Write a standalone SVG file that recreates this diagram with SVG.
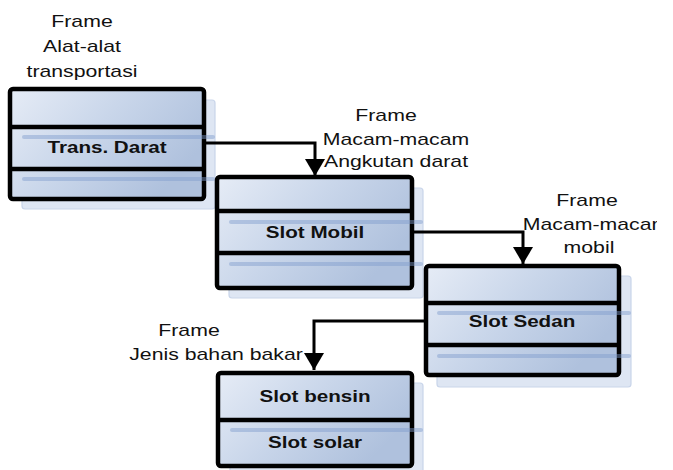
<svg xmlns="http://www.w3.org/2000/svg" width="673" height="470" viewBox="0 0 673 470">
  <defs>
    <linearGradient id="boxFill" x1="0" y1="0" x2="1" y2="0.5">
      <stop offset="0" stop-color="#e6ecf6"/>
      <stop offset="0.5" stop-color="#c9d6ea"/>
      <stop offset="1" stop-color="#afc1dd"/>
    </linearGradient>
    <clipPath id="pageEdge">
      <rect x="0" y="0" width="657" height="470"/>
    </clipPath>
    <marker id="arrowHead" viewBox="0 0 17 20" refX="17" refY="10" markerWidth="17" markerHeight="20" markerUnits="userSpaceOnUse" orient="auto">
      <path d="M0,0 L17,10 L0,20 Z" fill="#000"/>
    </marker>
  </defs>
  <style>
    .shadow { fill: #dee6f3; stroke: #c9d5ea; stroke-width: 1.2; }
    .stripe { stroke: #7f9ccd; stroke-width: 4; stroke-linecap: round; opacity: 0.45; }
    .box { fill: url(#boxFill); stroke: #000; stroke-width: 4.5; }
    .div { stroke: #000; stroke-width: 4.5; }
    .slot { font-family: "Liberation Sans", Arial, sans-serif; font-size: 16.5px; font-weight: bold; fill: #111; text-anchor: middle; }
    .lbl { font-family: "Liberation Sans", Arial, sans-serif; font-size: 17px; fill: #111; text-anchor: middle; }
    .conn { fill: none; stroke: #000; stroke-width: 3; }
  </style>

  <!-- frame labels -->
  <g id="label-transportasi">
    <text class="lbl" transform="translate(82,27) scale(1.25,1)">Frame</text>
    <text class="lbl" transform="translate(82,52) scale(1.25,1)">Alat-alat</text>
    <text class="lbl" transform="translate(82,77) scale(1.25,1)">transportasi</text>
  </g>
  <g id="label-angkutan">
    <text class="lbl" transform="translate(386,121) scale(1.25,1)">Frame</text>
    <text class="lbl" transform="translate(396,145) scale(1.25,1)">Macam-macam</text>
    <text class="lbl" transform="translate(396,167) scale(1.25,1)">Angkutan darat</text>
  </g>
  <g id="label-mobil" clip-path="url(#pageEdge)">
    <text class="lbl" transform="translate(587,206) scale(1.25,1)">Frame</text>
    <text class="lbl" transform="translate(596,230) scale(1.25,1)">Macam-macam</text>
    <text class="lbl" transform="translate(589,253) scale(1.25,1)">mobil</text>
  </g>
  <g id="label-bahan-bakar">
    <text class="lbl" transform="translate(189,336) scale(1.25,1)">Frame</text>
    <text class="lbl" transform="translate(216,360) scale(1.25,1)">Jenis bahan bakar</text>
  </g>

  <!-- frame: Trans. Darat -->
  <g id="frame-trans-darat">
    <rect class="shadow" x="22" y="100" width="193" height="109" rx="3"/>
    <rect class="box" x="10" y="89" width="194" height="110" rx="3"/>
    <line class="div" x1="10" y1="127" x2="204" y2="127"/>
    <line class="div" x1="10" y1="169" x2="204" y2="169"/>
    <line class="stripe" x1="24" y1="137" x2="213" y2="137"/>
    <line class="stripe" x1="24" y1="179" x2="213" y2="179"/>
    <text class="slot" transform="translate(107,153) scale(1.25,1)">Trans. Darat</text>
  </g>

  <!-- frame: Slot Mobil -->
  <g id="frame-slot-mobil">
    <rect class="shadow" x="229" y="188" width="194" height="110" rx="3"/>
    <rect class="box" x="217" y="177" width="195" height="111" rx="3"/>
    <line class="div" x1="217" y1="211" x2="412" y2="211"/>
    <line class="div" x1="217" y1="253" x2="412" y2="253"/>
    <line class="stripe" x1="231" y1="222" x2="421" y2="222"/>
    <line class="stripe" x1="231" y1="264" x2="421" y2="264"/>
    <text class="slot" transform="translate(315,238) scale(1.25,1)">Slot Mobil</text>
  </g>

  <!-- frame: Slot Sedan -->
  <g id="frame-slot-sedan">
    <rect class="shadow" x="437" y="276" width="194" height="111" rx="3"/>
    <rect class="box" x="426" y="266" width="193" height="109" rx="3"/>
    <line class="div" x1="426" y1="303" x2="619" y2="303"/>
    <line class="div" x1="426" y1="345" x2="619" y2="345"/>
    <line class="stripe" x1="439" y1="313" x2="629" y2="313"/>
    <line class="stripe" x1="439" y1="356" x2="629" y2="356"/>
    <text class="slot" transform="translate(522,327) scale(1.25,1)">Slot Sedan</text>
  </g>

  <!-- frame: bensin / solar -->
  <g id="frame-bahan-bakar">
    <rect class="shadow" x="230" y="383" width="193" height="95" rx="3"/>
    <rect class="box" x="218" y="373" width="194" height="93" rx="3"/>
    <line class="div" x1="218" y1="420" x2="412" y2="420"/>
    <line class="stripe" x1="232" y1="430" x2="421" y2="430"/>
    <text class="slot" transform="translate(315,402) scale(1.25,1)">Slot bensin</text>
    <text class="slot" transform="translate(315,448) scale(1.25,1)">Slot solar</text>
  </g>

  <!-- connectors -->
  <g id="connectors">
    <path class="conn" d="M206,143 H315 V176" marker-end="url(#arrowHead)"/>
    <path class="conn" d="M414,232 H523 V264" marker-end="url(#arrowHead)"/>
    <path class="conn" d="M424,321 H314 V370" marker-end="url(#arrowHead)"/>
  </g>
</svg>
